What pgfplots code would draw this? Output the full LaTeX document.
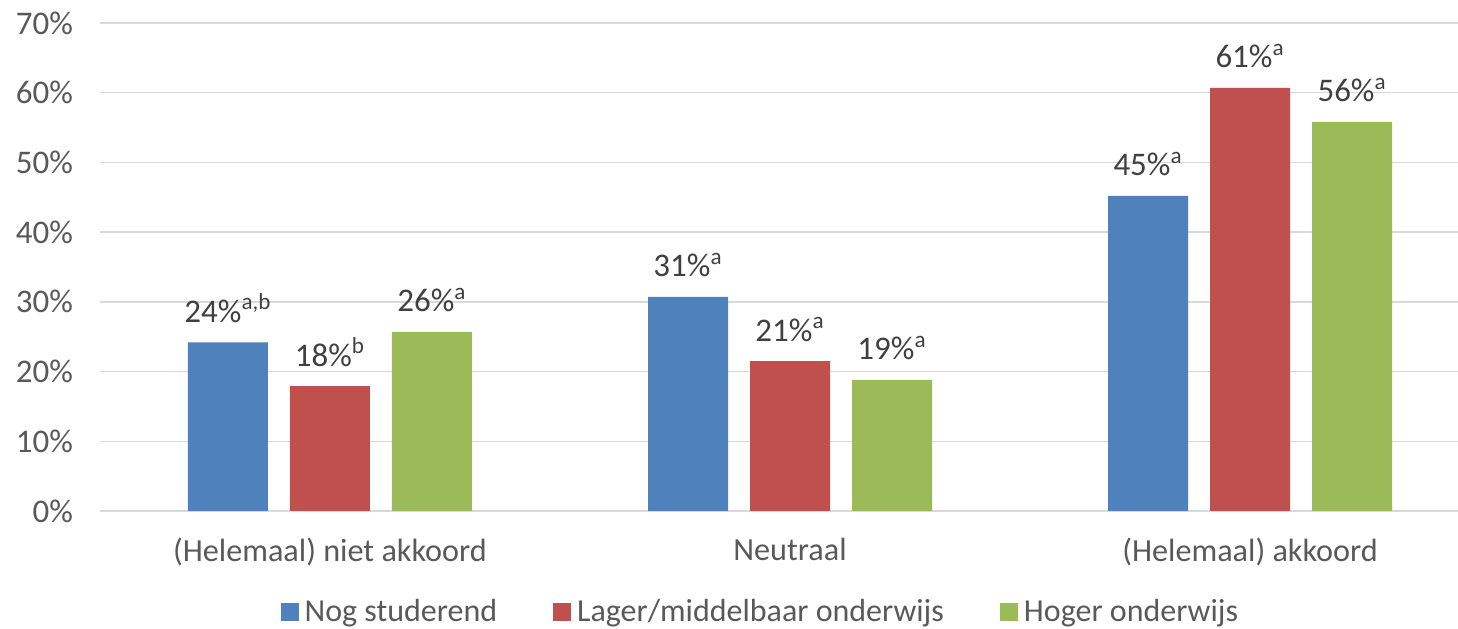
\documentclass[border=0pt]{standalone}
\usepackage{pgfplots}
\pgfplotsset{compat=1.18}
\usepackage{fontspec}
\setmainfont{Carlito}
\definecolor{cblue}{HTML}{4F81BD}
\definecolor{cred}{HTML}{C0504D}
\definecolor{cgreen}{HTML}{9BBB59}
\definecolor{gridc}{HTML}{D9D9D9}
\definecolor{labc}{HTML}{595959}
\definecolor{datac}{HTML}{404040}
\pgfplotsset{
  sqlegend/.style={legend image code/.code={\fill[##1] (0pt,-4.5pt) rectangle (9pt,4.5pt);}},
}
\begin{document}
\begin{tikzpicture}
\begin{axis}[
  width=679pt, height=244pt, scale only axis,
  ybar=11pt, bar width=40pt,
  xmin=-0.5, xmax=2.452, ymin=0, ymax=70,
  xtick={0,1,2},
  xticklabels={(Helemaal) niet akkoord, Neutraal, (Helemaal) akkoord},
  ytick={0,10,...,70},
  yticklabel={\pgfmathprintnumber[assume math mode=true]{\tick}\%},
  ymajorgrids, grid style={draw=gridc, line width=0.75pt},
  axis line style={draw=none},
  major tick length=0pt,
  tick label style={text=labc},
  yticklabel style={font=\fontsize{16.5}{20}\selectfont, xshift=-10pt},
  xticklabel style={font=\fontsize{16.1}{20}\selectfont, yshift=-10pt},
  point meta=explicit symbolic,
  nodes near coords={\pgfplotspointmeta},
  nodes near coords style={font=\fontsize{16.5}{20}\selectfont, text=datac, anchor=base, yshift=10pt, inner sep=0pt},
  legend columns=3,
  legend style={draw=none, fill=none, at={(0.487,-0.207)}, anchor=center,
    font=\fontsize{16}{19}\selectfont, text=labc,
    /tikz/every odd column/.append style={column sep=1pt},
    /tikz/every even column/.append style={column sep=26pt}},
]
\addplot[fill=cblue, draw=none, sqlegend] coordinates {
  (0,24.2) [24\%\textsuperscript{a,b}]
  (1,30.7) [31\%\textsuperscript{a}]
  (2,45.2) [45\%\textsuperscript{a}]
};
\addplot[fill=cred, draw=none, sqlegend] coordinates {
  (0,17.9) [18\%\textsuperscript{b}]
  (1,21.5) [21\%\textsuperscript{a}]
  (2,60.7) [61\%\textsuperscript{a}]
};
\addplot[fill=cgreen, draw=none, sqlegend] coordinates {
  (0,25.7) [26\%\textsuperscript{a}]
  (1,18.8) [19\%\textsuperscript{a}]
  (2,55.8) [56\%\textsuperscript{a}]
};
\legend{Nog studerend, Lager/middelbaar onderwijs, Hoger onderwijs}
\coordinate (bl) at (rel axis cs:-0.0736,-0.2418);
\coordinate (tr) at (rel axis cs:1.0,1.0471);
\end{axis}
\pgfresetboundingbox
\path[use as bounding box] (bl) rectangle (tr);
\end{tikzpicture}
\end{document}
